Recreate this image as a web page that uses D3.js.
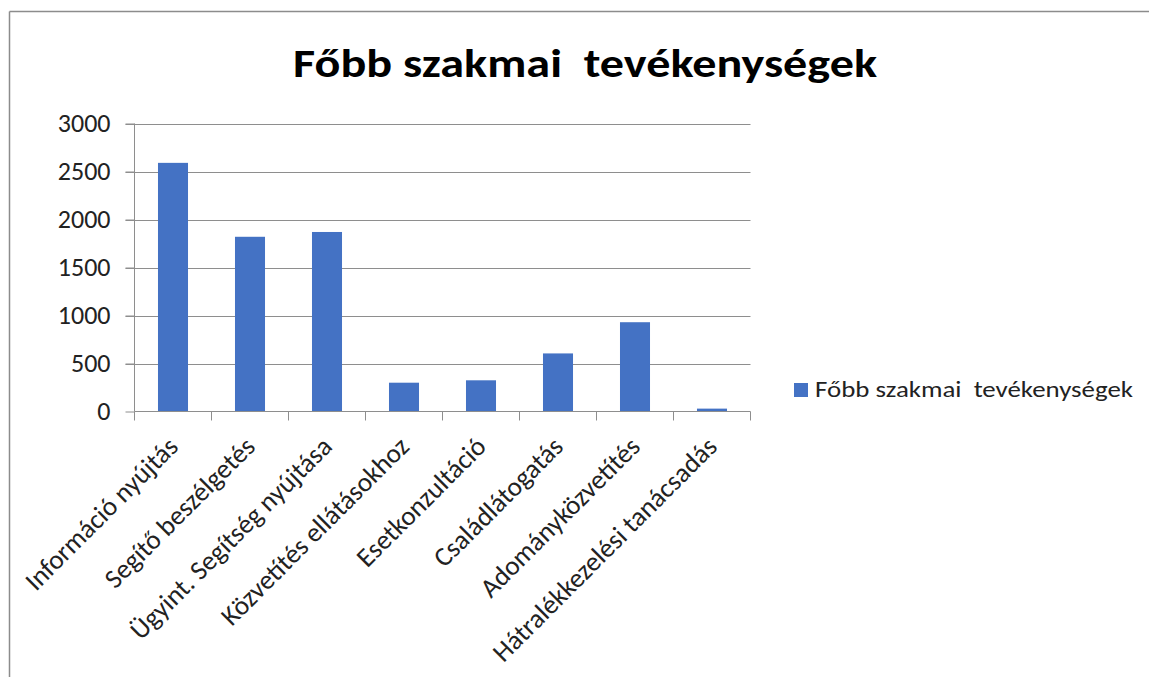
<!DOCTYPE html>
<html><head><meta charset="utf-8">
<script src="https://cdn.jsdelivr.net/npm/d3@7"></script>
<style>
html,body{margin:0;padding:0;background:#fff;}
svg{display:block;font-family:Carlito, Calibri, Lato, "Open Sans", sans-serif;}
</style></head>
<body><svg id="c" width="1149" height="677"></svg>
<script>
const title = "Főbb szakmai  tevékenységek";
const seriesName = "Főbb szakmai  tevékenységek";
const categories = ["Információ nyújtás","Segítő beszélgetés","Ügyint. Segítség nyújtása","Közvetítés ellátásokhoz","Esetkonzultáció","Családlátogatás","Adományközvetítés","Hátralékkezelési tanácsadás"];
const values = [2590, 1820, 1870, 300, 325, 605, 930, 30];
const yTicks = [0, 500, 1000, 1500, 2000, 2500, 3000];

const svg = d3.select("#c");
// frame
svg.append("line").attr("x1",9.5).attr("x2",1149).attr("y1",11.5).attr("y2",11.5).attr("stroke","#8c8c8c").attr("stroke-width",1.5);
svg.append("line").attr("x1",9.5).attr("x2",9.5).attr("y1",11.5).attr("y2",677).attr("stroke","#8c8c8c").attr("stroke-width",1.5);

const pL = 134.5, pR = 750.5, pT = 123.5, pB = 411.5;
const x = d3.scaleBand().domain(categories).range([pL, pR]).paddingInner(0.61).paddingOuter(0.305);
const xb = d3.scaleBand().domain(categories).range([pL, pR]);
const y = d3.scaleLinear().domain([0, 3000]).range([pB, pT]);

// gridlines
svg.append("g").selectAll("line").data(yTicks.filter(t=>t>0)).join("line")
  .attr("x1", pL - 9).attr("x2", pR).attr("y1", d=>Math.round(y(d))+0.5).attr("y2", d=>Math.round(y(d))+0.5)
  .attr("stroke","#8e8e8e").attr("stroke-width",1);

// y axis
const ya = svg.append("g").attr("transform",`translate(${pL},0)`)
  .call(d3.axisLeft(y).tickValues(yTicks).tickFormat(d3.format("d")).tickSize(9).tickPadding(15));
ya.attr("font-family",null).attr("font-size",null);
ya.select(".domain").attr("stroke","#8e8e8e").attr("d",`M0,${pT}V${pB}`);
ya.selectAll(".tick line").attr("stroke","#8e8e8e");
ya.selectAll(".tick text").attr("font-size",26).attr("fill","#222");

// bars
svg.append("g").selectAll("rect").data(values).join("rect")
  .attr("x",(d,i)=>x(categories[i])).attr("width",x.bandwidth())
  .attr("y",d=>y(d)).attr("height",d=>pB - y(d))
  .attr("fill","#4472C4");

// x axis
const xa = svg.append("g").attr("transform",`translate(0,${pB})`);
xa.append("line").attr("x1",pL).attr("x2",pR).attr("y1",0).attr("y2",0).attr("stroke","#8e8e8e");
const edges = categories.map(c=>xb(c)).concat([pR]);
xa.selectAll("line.t").data(edges).join("line").attr("class","t")
  .attr("x1",d=>d).attr("x2",d=>d).attr("y1",0).attr("y2",9).attr("stroke","#8e8e8e");
xa.selectAll("text").data(categories).join("text")
  .attr("transform",d=>`translate(${xb(d)+xb.bandwidth()/2},30) rotate(-45)`)
  .attr("text-anchor","end").attr("dy","0.35em")
  .attr("font-size",27).attr("fill","#222").text(d=>d);

// title
svg.append("text").attr("x",585).attr("y",77).attr("text-anchor","middle")
  .attr("font-size",41).attr("font-weight","bold").attr("fill","#000")
  .attr("textLength",584).attr("lengthAdjust","spacingAndGlyphs")
  .style("white-space","pre").text(title);

// legend
const lg = svg.append("g");
lg.append("rect").attr("x",794).attr("y",383).attr("width",14).attr("height",14).attr("fill","#4472C4");
lg.append("text").attr("x",815).attr("y",397).attr("font-size",22).attr("fill","#222")
  .attr("textLength",318).attr("lengthAdjust","spacingAndGlyphs")
  .style("white-space","pre").text(seriesName);
</script></body></html>
